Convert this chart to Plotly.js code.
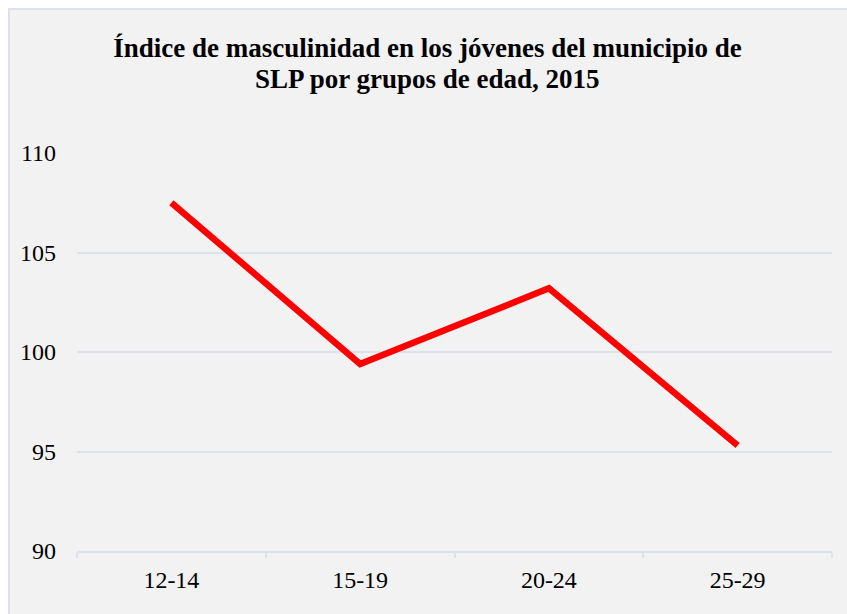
<!DOCTYPE html>
<html>
<head>
<meta charset="utf-8">
<script src="https://cdn.plot.ly/plotly-3.0.1.min.js"></script>
<style>
  html, body { margin: 0; padding: 0; background: #ffffff; width: 847px; height: 614px; overflow: hidden; }
  #frame { position: absolute; left: 8px; top: 8px; width: 839px; height: 606px;
           border-left: 2px solid #dde2ea; border-top: 2px solid #dde2ea; box-sizing: border-box; background: #f2f2f2; }
  #chart { position: absolute; left: 0; top: 0; width: 837px; height: 604px; }
</style>
</head>
<body>
<div id="frame"><div id="chart"></div></div>
<script>
const categories = ["12-14", "15-19", "20-24", "25-29"];
const indiceMasculinidad = [107.5, 99.4, 103.2, 95.3];
const yTicks = [90, 95, 100, 105, 110];
const titleLine1 = "Índice de masculinidad en los jóvenes del municipio de";
const titleLine2 = "SLP por grupos de edad, 2015";
const SERIF = "Liberation Serif";

const trace = {
  type: "scatter",
  mode: "lines",
  x: categories,
  y: indiceMasculinidad,
  line: { color: "#ff0000", width: 6.5 },
  hoverinfo: "skip"
};

const titleFont = { family: SERIF, size: 27, color: "#000000", weight: "bold" };

const layout = {
  width: 837,
  height: 604,
  paper_bgcolor: "#f2f2f2",
  plot_bgcolor: "#f2f2f2",
  margin: { l: 67, r: 15, t: 143, b: 63 },
  showlegend: false,
  font: { family: SERIF, color: "#000000" },
  title: {
    text: titleLine1,
    font: titleFont,
    x: 0.4988, xref: "container", xanchor: "center",
    y: 0.9373, yref: "container", yanchor: "middle"
  },
  annotations: [{
    text: titleLine2,
    font: titleFont,
    xref: "paper", yref: "paper",
    x: 0.4642, y: 1.1854,
    xanchor: "center", yanchor: "middle",
    showarrow: false
  }],
  xaxis: {
    type: "category",
    range: [-0.5, 3.5],
    showgrid: false,
    showline: true,
    linecolor: "#dde2ea",
    linewidth: 2,
    ticks: "outside",
    tickson: "boundaries",
    ticklen: 5,
    tickcolor: "#dde2ea",
    tickwidth: 2,
    tickfont: { size: 24, family: SERIF, color: "#000000" },
    ticklabelstandoff: 6,
    zeroline: false,
    fixedrange: true
  },
  yaxis: {
    range: [90, 110],
    tickvals: yTicks,
    ticktext: yTicks.map(String),
    showgrid: true,
    gridcolor: "#dde2ea",
    gridwidth: 2,
    showline: false,
    zeroline: false,
    ticks: "",
    tickfont: { size: 24, family: SERIF, color: "#000000" },
    ticklabelstandoff: 20,
    fixedrange: true
  }
};

Plotly.newPlot("chart", [trace], layout, { displayModeBar: false, staticPlot: true });
</script>
</body>
</html>
